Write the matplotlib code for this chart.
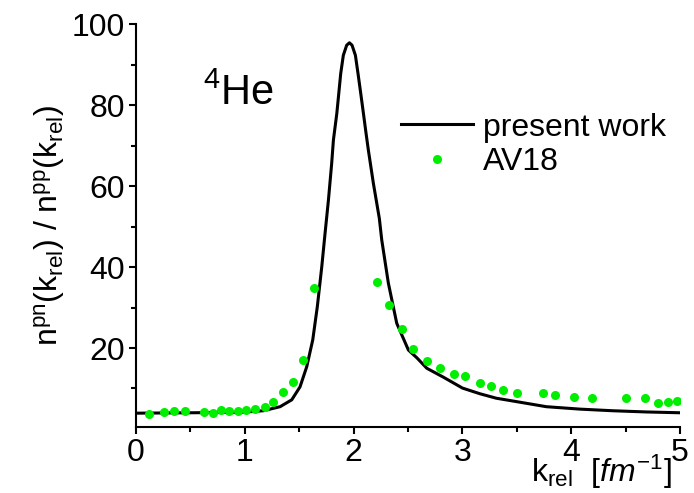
import numpy as np
import matplotlib
matplotlib.use("Agg")
import matplotlib.pyplot as plt
from matplotlib.ticker import MultipleLocator

plt.rcParams['font.family'] = ['Liberation Sans', 'DejaVu Sans']
plt.rcParams['mathtext.fontset'] = 'custom'
plt.rcParams['mathtext.rm'] = 'Liberation Sans'
plt.rcParams['mathtext.it'] = 'Liberation Sans:italic'

# present work (curve)
k_curve = [0.0, 0.5, 0.96, 1.17, 1.324, 1.431, 1.507, 1.569, 1.624, 1.666, 1.707,
           1.737, 1.768, 1.798, 1.814, 1.845, 1.86, 1.881, 1.905, 1.921, 1.936,
           1.961, 1.985, 2.0, 2.016, 2.04, 2.065, 2.09, 2.114, 2.135, 2.181,
           2.236, 2.258, 2.319, 2.396, 2.503, 2.58, 2.672, 2.824, 3.0, 3.16,
           3.31, 3.53, 3.77, 4.08, 4.38, 4.69, 5.0]
n_curve = [3.9, 4.0, 4.1, 4.5, 5.5, 7.2, 10.4, 15.4, 22.0, 30.2, 40.1,
           48.3, 56.5, 65.6, 71.4, 77.9, 82.0, 87.8, 92.3, 93.6, 94.8,
           95.4, 94.8, 93.6, 92.3, 87.8, 82.9, 77.9, 73.0, 68.9, 60.7,
           52.0, 46.7, 36.0, 26.1, 19.5, 17.6, 15.0, 12.8, 10.1, 8.7,
           7.6, 6.6, 5.5, 4.9, 4.5, 4.2, 4.0]

# AV18 points
k_av18 = [0.122, 0.257, 0.352, 0.453, 0.625, 0.705, 0.781, 0.858, 0.934, 1.008,
          1.097, 1.189, 1.262, 1.348, 1.443, 1.535, 1.636, 2.215, 2.328, 2.445,
          2.549, 2.678, 2.797, 2.923, 3.02, 3.165, 3.26, 3.376, 3.499, 3.744,
          3.854, 4.026, 4.194, 4.5, 4.68, 4.795, 4.893, 4.97]
n_av18 = [3.7, 4.2, 4.4, 4.4, 4.1, 4.0, 4.6, 4.4, 4.5, 4.6,
          4.9, 5.4, 6.6, 9.2, 11.6, 17.0, 34.9, 36.2, 30.6, 24.6,
          19.7, 16.9, 15.1, 13.5, 13.0, 11.4, 10.5, 9.7, 8.8, 8.9,
          8.3, 7.8, 7.6, 7.7, 7.6, 6.3, 6.7, 6.8]

fig = plt.figure(figsize=(6.94, 4.93), dpi=100)
ax = fig.add_axes([0.196, 0.134, 0.784, 0.817])

ax.plot(k_curve, n_curve, color='black', lw=2.2, label='present work', zorder=2)
ax.plot(k_av18, n_av18, 'o', color='#00ee00', ms=6.5, mec='none',
        label='AV18', zorder=3)

ax.set_xlim(0, 5)
ax.set_ylim(0.5, 100)
ax.xaxis.set_major_locator(MultipleLocator(1))
ax.xaxis.set_minor_locator(MultipleLocator(0.5))
ax.yaxis.set_major_locator(MultipleLocator(20))
ax.yaxis.set_minor_locator(MultipleLocator(10))
ax.set_yticks([20, 40, 60, 80, 100])

for s in ['top', 'right']:
    ax.spines[s].set_visible(False)
for s in ['left', 'bottom']:
    ax.spines[s].set_linewidth(1.5)
ax.tick_params(which='major', direction='out', length=5, width=1.5, labelsize=23, pad=3)
ax.tick_params(which='minor', direction='out', length=3.6, width=1.5)

ax.set_ylabel(r'n$^{\rm pn}$(k$_{\rm rel}$) / n$^{\rm pp}$(k$_{\rm rel}$)', fontsize=23)
ax.yaxis.set_label_coords(-0.127, 0.5)
ax.set_xlabel(r'k$_{\rm rel}$  [$fm^{-1}$]', fontsize=23)
ax.xaxis.set_label_coords(0.855, -0.065)

ax.text(0.62, 80, r'$^{4}$He', fontsize=30)

ax.legend(loc='upper left', bbox_to_anchor=(0.457, 0.82), frameon=False,
          fontsize=23, handlelength=2.28, handletextpad=0.31, borderpad=0,
          labelspacing=0.15, numpoints=1)

fig.savefig('out.png', dpi=100)
